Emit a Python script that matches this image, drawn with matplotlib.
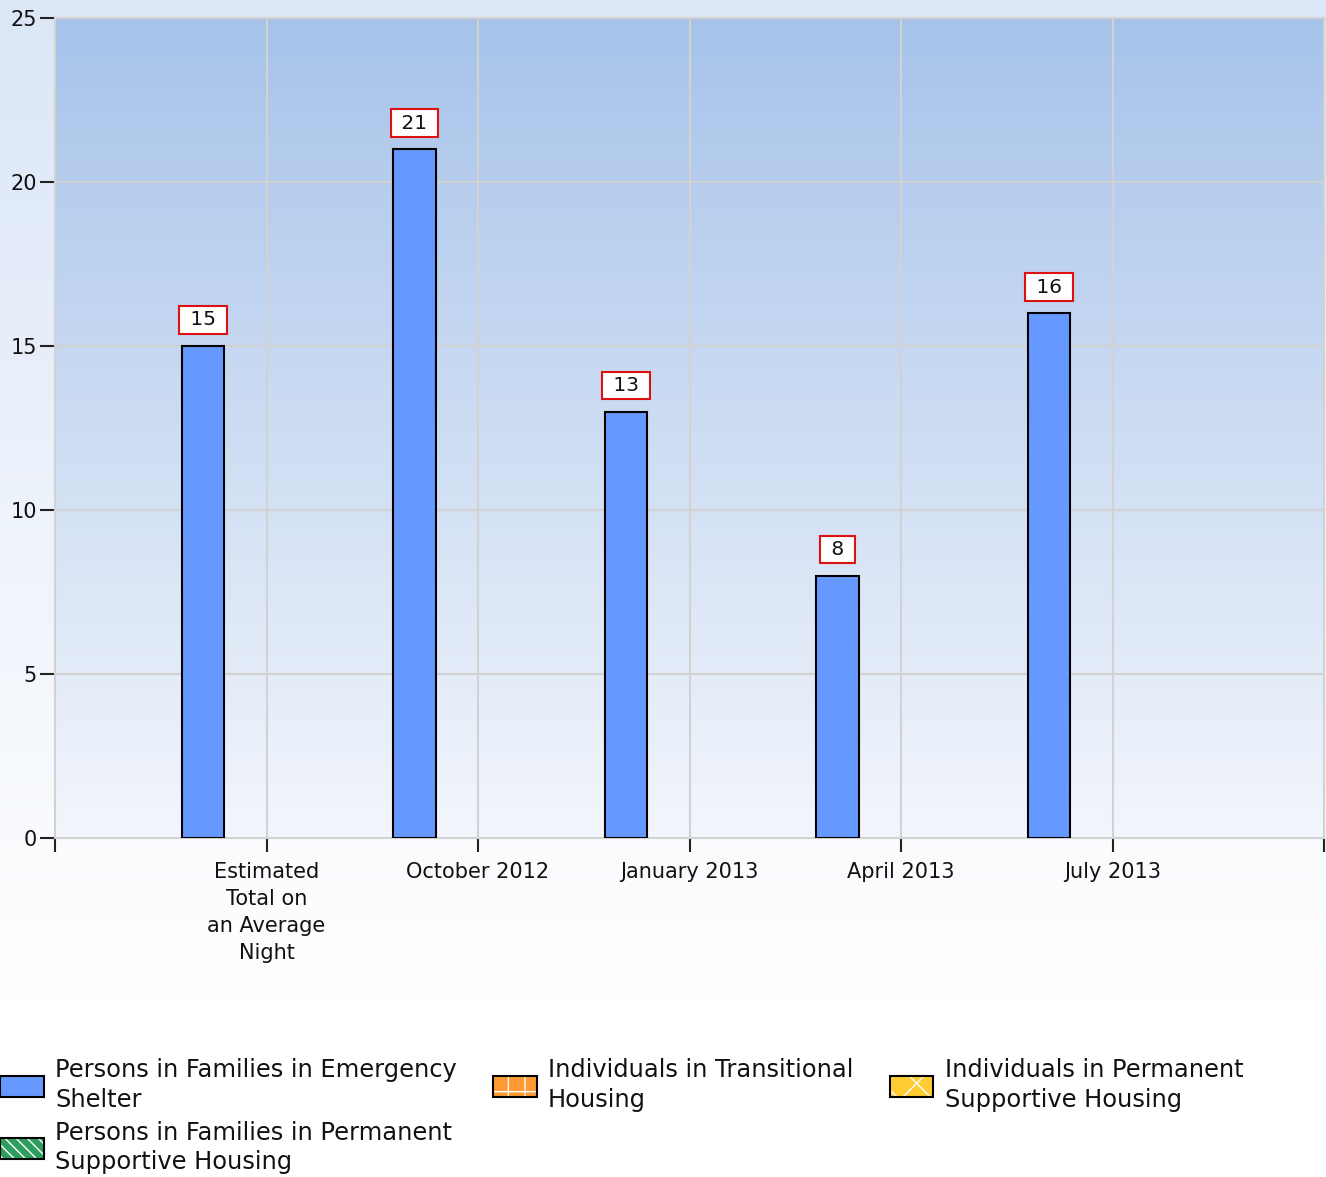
import numpy as np
import matplotlib.pyplot as plt
from matplotlib.patches import Patch
from matplotlib.colors import LinearSegmentedColormap

categories = ['Estimated\nTotal on\nan Average\nNight', 'October 2012',
              'January 2013', 'April 2013', 'July 2013']
series_names = ['Persons in Families in Emergency\nShelter',
                'Persons in Families in Permanent\nSupportive Housing',
                'Individuals in Transitional\nHousing',
                'Individuals in Permanent\nSupportive Housing']
families_es = [15, 21, 13, 8, 16]
families_psh = [0, 0, 0, 0, 0]
individuals_th = [0, 0, 0, 0, 0]
individuals_psh = [0, 0, 0, 0, 0]
yticks = [0, 5, 10, 15, 20, 25]

all_series = [families_es, families_psh, individuals_th, individuals_psh]
face_colors = ['#6699ff', '#2e9e5e', '#ff9933', '#ffcc33']
hatches = [None, '\\\\\\', '+', 'x']

plt.rcParams['font.family'] = 'DejaVu Sans'

fig = plt.figure(figsize=(13.26, 11.77), dpi=100)

# figure background gradient
bg = fig.add_axes([0, 0, 1, 1], zorder=-10)
bg_cmap = LinearSegmentedColormap.from_list('bg', [(0, '#dbe6f7'), (0.85, '#ffffff'), (1, '#ffffff')])
bg.imshow(np.linspace(0, 1, 256).reshape(-1, 1), cmap=bg_cmap, aspect='auto',
          extent=[0, 1, 0, 1], origin='upper')
bg.axis('off')

ax = fig.add_axes([55 / 1326, 1 - 838 / 1177, (1324 - 55) / 1326, (838 - 18) / 1177])
ax.patch.set_visible(False)
ax_cmap = LinearSegmentedColormap.from_list('ax', ['#a7c3ea', '#f3f6fc'])
ax.imshow(np.linspace(0, 1, 256).reshape(-1, 1), cmap=ax_cmap, aspect='auto',
          extent=[-1, 5, 0, 25], origin='upper', zorder=0)

x = np.arange(len(categories))
width = 0.2
offsets = [-0.3, -0.1, 0.1, 0.3]
for vals, off, fc in zip(all_series, offsets, face_colors):
    for xi, v in zip(x, vals):
        if v > 0:
            ax.annotate(' %d ' % v, (xi + off, v), xytext=(0, 12), textcoords='offset points',
                        ha='center', va='bottom', fontsize=14.5, color='#111111', zorder=5,
                        bbox=dict(boxstyle='square,pad=0.22', fc='white', ec='#dd1111', lw=1.5))
            ax.bar(xi + off, v, width, color=fc, edgecolor='black', linewidth=1.5, zorder=3)

ax.set_xlim(-1, 5)
ax.set_ylim(0, 25)
ax.set_xticks(np.arange(-1, 6))
ax.set_xticklabels([''] + categories + [''], fontsize=15, color='#111111', va='top',
                   linespacing=1.45)
ax.set_yticks(yticks)
ax.set_yticklabels([str(t) for t in yticks], fontsize=15, color='#111111')
ax.tick_params(axis='x', length=10, width=1.5, color='#222222', pad=7)
ax.tick_params(axis='y', length=11, width=1.5, color='#222222', pad=2)
ax.grid(True, color='#d2d2d2', linewidth=1.5, zorder=1)
ax.set_axisbelow(True)
for s in ax.spines.values():
    s.set_color('#d2d2d2')
    s.set_linewidth(1.5)

# legend
handles = []
for fc, h in zip(face_colors, hatches):
    if h is None:
        handles.append(Patch(facecolor=fc, edgecolor='black', linewidth=1.5))
    else:
        handles.append((Patch(facecolor=fc, edgecolor='white', hatch=h, linewidth=0),
                        Patch(facecolor='none', edgecolor='black', linewidth=1.5)))
leg = fig.legend(handles, series_names, loc='upper left', bbox_to_anchor=(-0.007, 0.109),
                 ncol=3, frameon=False, fontsize=17.4, handlelength=1.8, handleheight=1.0,
                 handletextpad=0.47, columnspacing=1.5, labelspacing=0.35, borderaxespad=0,
                 labelcolor='#111111')
for t in leg.get_texts():
    t.set_linespacing(1.3)

fig.savefig('out.png', dpi=100)
